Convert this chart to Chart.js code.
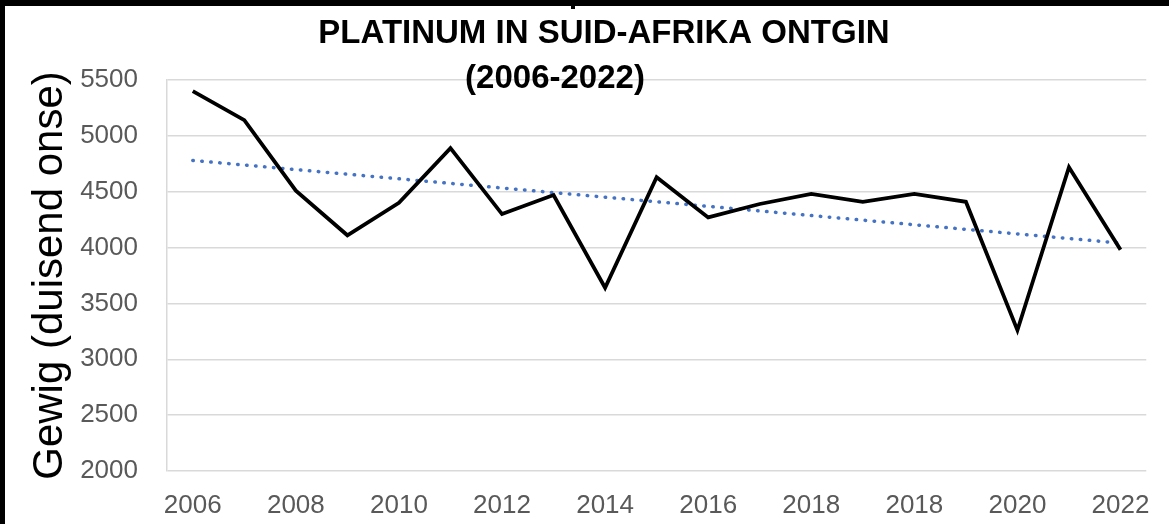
<!DOCTYPE html>
<html>
<head>
<meta charset="utf-8">
<script src="https://cdn.jsdelivr.net/npm/chart.js@4"></script>
<style>
  body { margin: 0; background: #fff; }
</style>
</head>
<body>
<canvas id="platChart" width="1169" height="524"></canvas>
<script>
// values
const categories = ['2006', '2007', '2008', '2009', '2010', '2011', '2012', '2013', '2014', '2015',
  '2016', '2017', '2018', '2019', '2020', '2021', '2022', '2023', '2024'];
const tickLabels = ['2006', '', '2008', '', '2010', '', '2012', '', '2014', '', '2016', '',
  '2018', '', '2018', '', '2020', '', '2022'];
const production = [5400, 5140, 4510, 4110, 4400, 4890, 4300, 4470, 3640, 4630, 4270, 4390,
  4480, 4410, 4480, 4410, 3260, 4720, 3980];
// trend line: only the two ends, the gap in between is spanned
const trend = [4780, null, null, null, null, null, null, null, null, null, null, null,
  null, null, null, null, null, null, 4040];
const titleLines = ['PLATINUM IN SUID-AFRIKA ONTGIN', '(2006-2022)'];
const yTitle = 'Gewig (duisend onse)';

const FONT = "'Liberation Sans', Arial, sans-serif";

// frame + title text
const decorPlugin = {
  id: 'decor',
  afterDraw(chart) {
    const c = chart.ctx;
    c.save();
    c.fillStyle = '#000';
    c.fillRect(0, 0, chart.width, 6);
    c.fillRect(0, 0, 5, chart.height);
    c.fillRect(571, 0, 4, 9);
    c.font = 'bold 33px ' + FONT;
    c.textAlign = 'center';
    c.textBaseline = 'alphabetic';
    c.fillText(titleLines[0], 604, 43);
    c.fillText(titleLines[1], 555, 88);
    c.restore();
  }
};

new Chart(document.getElementById('platChart'), {
  type: 'line',
  data: {
    labels: categories,
    datasets: [{
      label: 'Produksie',
      data: production,
      borderColor: '#000',
      borderWidth: 3.8,
      borderJoinStyle: 'miter',
      pointRadius: 0,
      tension: 0,
      fill: false
    }, {
      label: 'Tendens',
      data: trend,
      spanGaps: true,
      borderColor: '#4472C4',
      borderWidth: 3.5,
      borderDash: [0.5, 8.5],
      borderCapStyle: 'round',
      pointRadius: 0,
      fill: false
    }]
  },
  options: {
    responsive: false,
    animation: false,
    layout: { padding: { left: 6, top: 80, right: 22, bottom: 0 } },
    plugins: {
      legend: { display: false },
      tooltip: { enabled: false }
    },
    scales: {
      x: {
        offset: true,
        afterFit: (s) => { s.height = 53; },
        grid: { display: false, drawTicks: false },
        border: { display: false },
        ticks: {
          autoSkip: false,
          maxRotation: 0,
          padding: 19,
          color: '#595959',
          font: { family: FONT, size: 26 },
          callback: (v, i) => tickLabels[i]
        }
      },
      y: {
        min: 2000,
        max: 5500,
        afterFit: (s) => { s.width = 161; },
        grid: { color: '#d9d9d9', lineWidth: 1.5, drawTicks: false },
        border: { color: '#d9d9d9', width: 1.5 },
        ticks: {
          stepSize: 500,
          padding: 29,
          color: '#595959',
          font: { family: FONT, size: 26 },
          callback: (v) => String(v)
        },
        title: {
          display: true,
          text: yTitle,
          color: '#000',
          padding: { top: 19, bottom: 0 },
          font: { family: FONT, size: 42 }
        }
      }
    }
  },
  plugins: [decorPlugin]
});
</script>
</body>
</html>
